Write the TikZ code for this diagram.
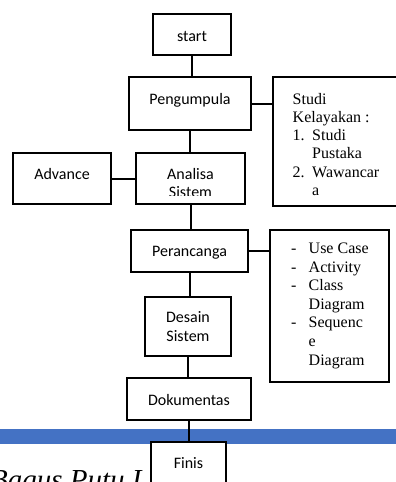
\documentclass[tikz,border=0pt]{standalone}
\usepackage{fontspec}
\setmainfont{Liberation Serif}
\newfontfamily\calibri{Carlito}
\definecolor{barblue}{RGB}{68,114,196}
\begin{document}
\begin{tikzpicture}[x=1pt,y=-1pt,
  bx/.style={draw,line width=2pt,fill=white,inner sep=0pt},
  lnk/.style={line width=2pt},
  sf/.style={font=\calibri\fontsize{16}{19}\selectfont,inner sep=0pt,anchor=base},
  rm/.style={font=\fontsize{16}{18}\selectfont,inner sep=0pt,anchor=base west}]
\useasboundingbox (0,0) rectangle (396,482);
\clip (0,0) rectangle (396,482);
% blue bar and footer text
\fill[barblue] (0,429) rectangle (396,444);
\node[font=\itshape\fontsize{29}{32}\selectfont,inner sep=0pt,anchor=base west] (foot) at (-10,489) {Bagus Putu I};
% boxes
\node[bx,minimum width=78pt,minimum height=41pt] (start) at (192,34.5) {};
\node[bx,minimum width=122pt,minimum height=53pt] (peng) at (190,103.5) {};
\node[bx,minimum width=126pt,minimum height=129pt] (studi) at (336,141.5) {};
\node[bx,minimum width=98pt,minimum height=51pt] (adv) at (62,178.5) {};
\node[bx,minimum width=109pt,minimum height=51pt] (ana) at (190.5,178.5) {};
\node[bx,minimum width=117pt,minimum height=42pt] (per) at (189.5,251) {};
\node[bx,minimum width=119pt,minimum height=152pt] (uml) at (329.5,306) {};
\node[bx,minimum width=86pt,minimum height=59pt] (des) at (188,326.5) {};
\node[bx,minimum width=124pt,minimum height=42pt] (dok) at (189,399) {};
\node[bx,minimum width=75pt,minimum height=47pt] (fin) at (188.5,465.5) {};
% connectors
\draw[lnk] (start.south) -- (start.south |- peng.north);
\draw[lnk] (peng.south) -- (peng.south |- ana.north);
\draw[lnk] (ana.south) -- (ana.south |- per.north);
\draw[lnk] (per.south) -- (per.south |- des.north);
\draw[lnk] (des.south) -- (des.south |- dok.north);
\draw[lnk] (dok.south) -- (dok.south |- fin.north);
\draw[lnk] (peng.east) -- (peng.east -| studi.west);
\draw[lnk] (adv.east) -- (adv.east -| ana.west);
\draw[lnk] (per.east) -- (per.east -| uml.west);
% box texts
\node[sf] (tstart) at (192,41.5) {start};
\node[sf] (tpeng) at (190,104) {Pengumpula};
\node[sf] (tadv) at (62,179) {Advance};
\node[sf] (tana1) at (190.5,179) {Analisa};
\begin{scope}
\clip (136,153) rectangle (245,195.5);
\node[sf] (tana2) at (190.5,197.5) {Sistem};
\end{scope}
\node[sf] (tper) at (189.5,256) {Perancanga};
\node[sf] (tdes1) at (188,322.7) {Desain};
\node[sf] (tdes2) at (188,341.5) {Sistem};
\node[sf] (tdok) at (189,405) {Dokumentas};
\node[sf] (tfin) at (188.5,468) {Finis};
% Studi Kelayakan list
\node[rm] (s1) at (292.5,104) {Studi};
\node[rm] (s2) at (292.5,122.3) {Kelayakan :};
\node[rm] (s3n) at (292.5,140.6) {1.};
\node[rm] (s3) at (312,140.6) {Studi};
\node[rm] (s4) at (312,158.9) {Pustaka};
\node[rm] (s5n) at (292.5,177.2) {2.};
\node[rm] (s5) at (312,177.2) {Wawancar};
\node[rm] (s6) at (312,195.5) {a};
% UML list
\node[rm] (u1d) at (291,253.5) {-};
\node[rm] (u1) at (308.5,253.5) {Use Case};
\node[rm] (u2d) at (291,272.1) {-};
\node[rm] (u2) at (308.5,272.1) {Activity};
\node[rm] (u3d) at (291,290.7) {-};
\node[rm] (u3) at (308.5,290.7) {Class};
\node[rm] (u4) at (308.5,309.3) {Diagram};
\node[rm] (u5d) at (291,327.9) {-};
\node[rm] (u5) at (308.5,327.9) {Sequenc};
\node[rm] (u6) at (308.5,346.5) {e};
\node[rm] (u7) at (308.5,365.1) {Diagram};
\end{tikzpicture}
\end{document}
